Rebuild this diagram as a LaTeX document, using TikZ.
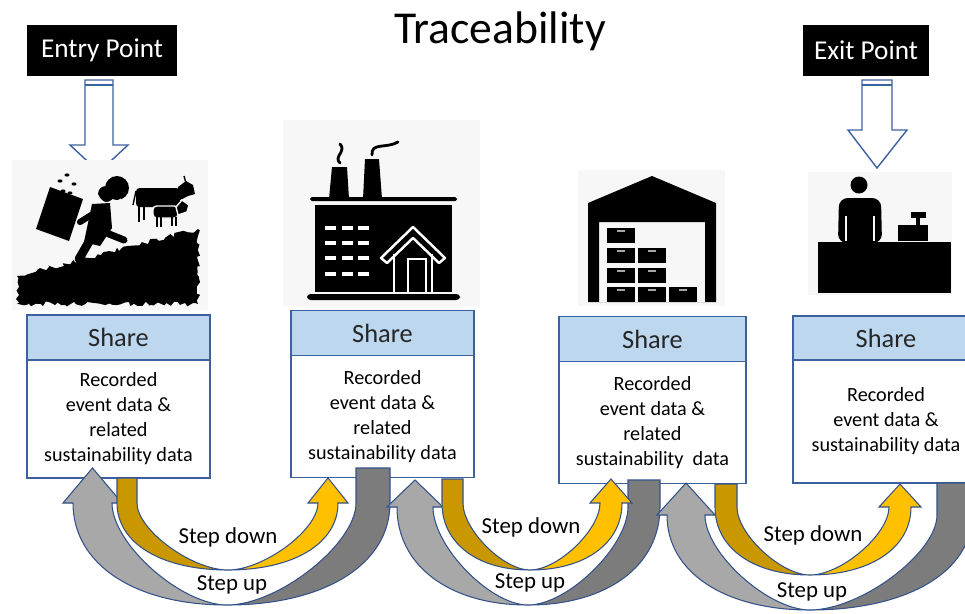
\documentclass[tikz,border=0pt]{standalone}
\usepackage{fontspec}
\setmainfont{Carlito}
\usetikzlibrary{positioning,decorations.pathmorphing}

\definecolor{headblue}{RGB}{189,215,238}
\definecolor{edgeblue}{RGB}{61,97,160}
\definecolor{arrowedge}{RGB}{52,82,138}
\definecolor{golddark}{RGB}{201,152,0}
\definecolor{goldlight}{RGB}{255,192,0}
\definecolor{graylight}{RGB}{168,168,168}
\definecolor{graydark}{RGB}{124,124,124}
\definecolor{iconfill}{RGB}{247,247,247}

% U-shaped block arrow: thick at both ends, pinched at the bottom point
% #1 look, #2/#3 bottom point, #4 shoulder y, #5 top y,
% #6/#7 tail edges (outer, inner), #8/#9 head edges (outer, inner)
\newcommand\crescent[9]{%
  \pgfmathsetmacro\arcmid{#2}%
  \pgfmathsetmacro\headdir{(#8-#9)/abs(#8-#9)}%
  \pgfmathsetmacro\headmid{(#8+#9)/2}%
  \pgfmathsetmacro\bendo{#4+0.6*(#3-#4)}%
  \pgfmathsetmacro\bendi{#4+0.4*(#3-#4)}%
  \path[#1] (#6,#5) -- (#6,#4)
    .. controls (#6,\bendo) and ({#2+0.6*(#6-#2)},#3) .. (#2,#3)
    .. controls ({#2+0.6*(#8-#2)},#3) and (#8,\bendo) .. (#8,#4)
    -- ({#8+10*\headdir},#4) -- (\headmid,#5) -- ({#9-10*\headdir},#4) -- (#9,#4)
    .. controls (#9,\bendi) and ({#2+0.4*(#9-#2)},#3) .. (#2,#3)
    .. controls ({#2+0.4*(#7-#2)},#3) and (#7,\bendi) .. (#7,#4)
    -- (#7,#5) -- cycle;
}

\begin{document}
\begin{tikzpicture}[x=0.02cm, y=-0.02cm,
  sharehead/.style={draw=edgeblue, line width=0.8pt, fill=headblue, inner sep=0pt, outer sep=0pt,
    minimum height=0.9cm, text=black!85, font=\fontsize{15}{18}\selectfont},
  recbox/.style={draw=edgeblue, line width=0.8pt, fill=white, inner sep=0pt, outer sep=0pt,
    align=center, font=\fontsize{11.5}{14.2}\selectfont},
  pointbox/.style={fill=black, text=white, inner sep=0pt, minimum height=1.02cm,
    font=\fontsize{15.5}{18}\selectfont},
  hollow/.style={draw=edgeblue, fill=white, line width=0.8pt},
  steplabel/.style={font=\fontsize{13}{15}\selectfont},
  sweep/.style 2 args={draw=arrowedge, line width=0.6pt, fill=#2, path picture={
      \fill[#1] (path picture bounding box.north west) rectangle ({\arcmid-10},700);
      \shade[left color=#1, right color=#2] ({\arcmid-10},0) rectangle ({\arcmid+10},700);}},
  downsweep/.style={sweep={golddark}{goldlight}},
  upsweep/.style={sweep={graylight}{graydark}},
  iconbg/.style={fill=iconfill}]
\useasboundingbox (0,0) rectangle (965,613);

\node[font=\fontsize{26}{30}\selectfont, anchor=base] (title) at (500,43) {Traceability};

\node[pointbox, minimum width=3cm] (entry) at (102,50.5) {Entry Point};
\node[pointbox, minimum width=2.52cm] (exit) at (866,50) {Exit Point};

% entry / exit arrows
\draw[hollow] (85,80) -- (85,145) -- (70,145) -- (99,172) -- (128,145) -- (113,145) -- (113,80) -- cycle;
\draw[edgeblue, line width=0.8pt] (85,85) -- (113,85);
\draw[hollow] (862,80) -- (862,130) -- (848,130) -- (877,168) -- (907,130) -- (892,130) -- (892,80) -- cycle;
\draw[edgeblue, line width=0.8pt] (862,85) -- (892,85);

% farm: sower on a slope, cattle behind
\fill[iconbg] (12,160) rectangle (208,310);
\fill[decorate, decoration={random steps, segment length=2pt, amplitude=1.4pt}]
  (17,276) -- (198,229) -- (198,304) -- (17,304) -- cycle;
\fill (36,229) -- (50,187) -- (83,199) -- (69,241) -- cycle;
\fill (117,188) circle (12);
\fill (106,194) circle (8);
\draw[iconfill, line width=0.6pt] (96,190) .. controls (100,206) and (112,206) .. (121,199);
\fill (92,204) -- (110,203) -- (112,228) -- (100,246) -- (84,242) -- cycle;
\draw[line width=5pt, line cap=round] (90,240) -- (79,259);
\draw[line width=4pt, line cap=round] (104,232) -- (124,240);
\draw[line width=3.5pt, line cap=round] (96,212) -- (80,222);
\foreach \sx/\sy in {60/181, 67/175, 74/184, 63/191, 70/193}
  \fill (\sx,\sy) ellipse (2.5 and 1.6);
\fill[rounded corners=2pt] (136,188) rectangle (180,207);
\fill (178,187) -- (186,181) -- (193,185) -- (195,194) -- (188,196) -- (180,200) -- cycle;
\draw[line width=0.8pt] (186,183) -- (184,176) (136,191) -- (133,205);
\draw[line width=1.4pt] (139,205) -- (139,222) (144,205) -- (144,220);
\filldraw[draw=iconfill, line width=0.8pt, rounded corners=2pt] (153,206) rectangle (178,218);
\filldraw[draw=iconfill, line width=0.8pt] (176,207) -- (182,200) -- (189,205) -- (187,212) -- (178,215) -- cycle;
\draw[line width=1.3pt] (157,217) -- (157,227) (161,217) -- (161,227) (172,217) -- (172,226) (176,217) -- (176,226);

% factory
\fill[iconbg] (283,120) rectangle (480,306);
\fill (329,199) -- (332,167) -- (347,167) -- (349,199) -- cycle;
\fill (363,199) -- (365,159) -- (379,159) -- (382,199) -- cycle;
\draw[line width=1.6pt, line cap=round] (340,163) .. controls (333,157) and (347,151) .. (340,144);
\draw[line width=1.6pt, line cap=round] (372,155) .. controls (371,142) and (386,149) .. (398,142);
\fill[rounded corners=1pt] (310,197) rectangle (457,201);
\fill (315,205) rectangle (452,292);
\fill[rounded corners=2pt] (307,294) rectangle (460,300);
\foreach \wx in {325,342,358}
  \foreach \wy in {226,241,256,272}
    \fill[white] (\wx,\wy) rectangle ++(11,4);
\draw[white, line width=1.4pt, line join=round] (381,258) -- (413,227) -- (445,258) -- (439,263) -- (413,238) -- (387,263) -- cycle;
\draw[white, line width=1.4pt] (394,254) -- (394,292) (432,254) -- (432,292);
\draw[white, line width=1.4pt] (408,292) -- (408,259) -- (426,259) -- (426,292);

% warehouse
\fill[iconbg] (578,170) rectangle (725,306);
\fill[even odd rule] (588,302) -- (588,203) -- (652,176) -- (716,203) -- (716,302) -- cycle
  (599,222) rectangle (705,302);
\foreach \bx/\by in {607/228, 607/248, 638/248, 607/268, 638/268, 607/287, 638/287, 669/287} {
  \fill (\bx,\by) rectangle ++(28,15);
  \draw[gray!70, line width=0.8pt] ({\bx+10},{\by+3}) -- ++(8,0);
}

% shop counter
\fill[iconbg] (808,172) rectangle (952,295);
\fill (859,185) circle (8.5);
\fill[rounded corners=5pt] (838,243) -- (839,198) -- (881,198) -- (882,243) -- cycle;
\draw[iconfill, line width=0.9pt] (846,216) -- (846,241) (874,216) -- (874,241);
\fill (818,242) rectangle (951,293);
\fill (898,225) rectangle (928,241);
\fill (911,212) rectangle (926,218);
\fill (916,217) rectangle (920,226);

% share boxes
\node[sharehead, minimum width=3.66cm] (share1) at (118.5,337.5) {Share};
\node[recbox, minimum width=3.66cm, minimum height=2.36cm, below=0pt of share1] (rec1)
  {Recorded\\event data \&\\related\\sustainability data};
\node[sharehead, minimum width=3.66cm] (share2) at (382.5,333) {Share};
\node[recbox, minimum width=3.66cm, minimum height=2.44cm, below=0pt of share2] (rec2)
  {Recorded\\event data \&\\related\\sustainability data};
\node[sharehead, minimum width=3.74cm] (share3) at (652.5,339) {Share};
\node[recbox, minimum width=3.74cm, minimum height=2.44cm, below=0pt of share3] (rec3)
  {Recorded\\event data \&\\related\\sustainability\ \ data};
\node[sharehead, minimum width=3.72cm, minimum height=0.88cm] (share4) at (886,338) {Share};
\node[recbox, minimum width=3.72cm, minimum height=2.46cm, below=0pt of share4] (rec4)
  {Recorded\\event data \&\\sustainability data};

% step up / step down sweeps between neighbouring boxes
\crescent{upsweep}{227}{605}{503}{468}{390}{356}{73}{112}
\crescent{upsweep}{528}{605}{507}{480}{660}{628}{397}{433}
\crescent{upsweep}{810}{610}{515}{483}{972}{937}{667}{705}
\crescent{downsweep}{228}{570}{503}{478}{117}{137}{338}{318}
\crescent{downsweep}{530}{570}{503}{479}{442}{463}{622}{600}
\crescent{downsweep}{810}{575}{507}{484}{715}{737}{911}{889}

\node[steplabel] (down1) at (228,537) {Step down};
\node[steplabel] (up1) at (232,585) {Step up};
\node[steplabel] (down2) at (531,527) {Step down};
\node[steplabel] (up2) at (530,583) {Step up};
\node[steplabel] (down3) at (813,535) {Step down};
\node[steplabel] (up3) at (812,592) {Step up};
\end{tikzpicture}
\end{document}
